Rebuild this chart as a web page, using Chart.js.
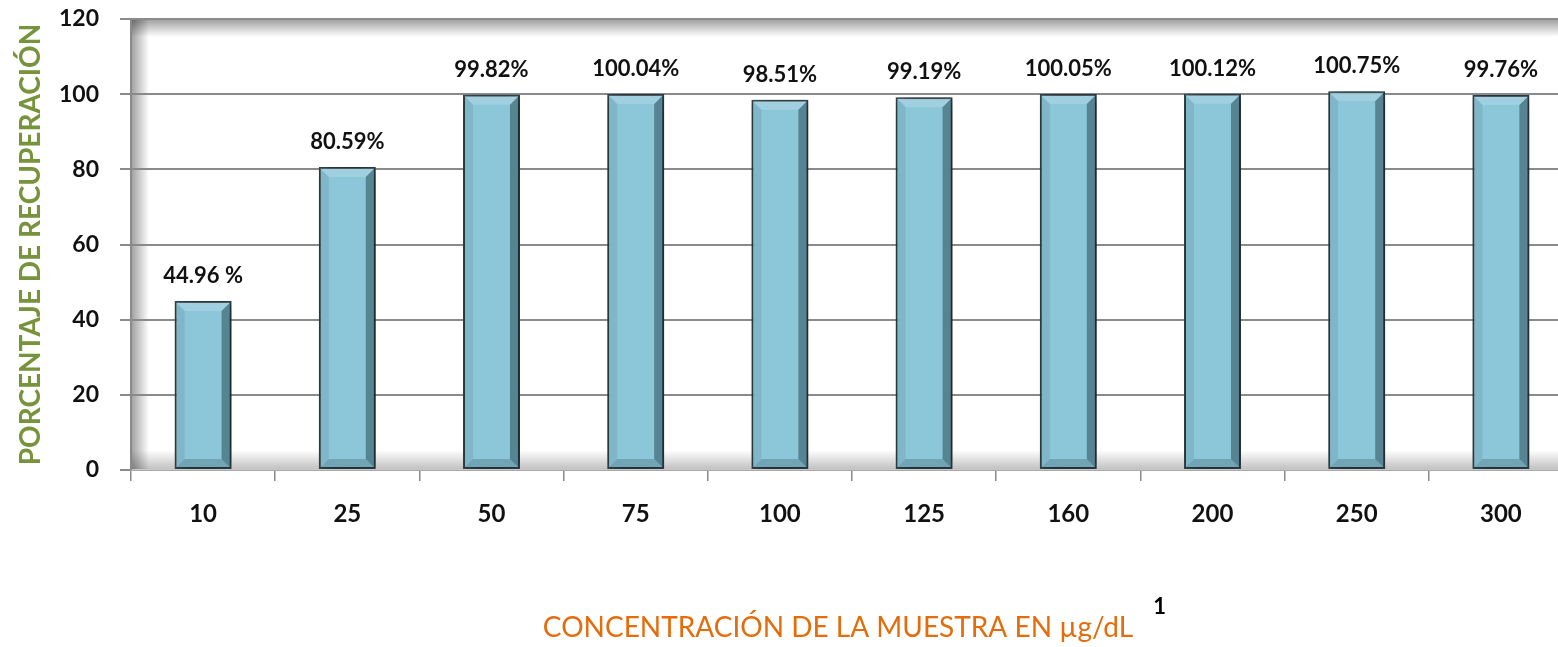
<!DOCTYPE html>
<html>
<head>
<meta charset="utf-8">
<title>Porcentaje de recuperación</title>
<script src="https://cdn.jsdelivr.net/npm/chart.js@4.4.1/dist/chart.umd.min.js"></script>
<style>
  html, body { margin: 0; padding: 0; background: #fff; overflow: hidden; }
  #wrap { width: 1580px; height: 647px; position: relative; }
</style>
</head>
<body>
<div id="wrap"><canvas id="chart"></canvas></div>
<script>
// concentration of each sample (µg/dL)
const categories = ["10", "25", "50", "75", "100", "125", "160", "200", "250", "300"];
// recovery percentage
const recovery = [44.96, 80.59, 99.82, 100.04, 98.51, 99.19, 100.05, 100.12, 100.75, 99.76];
const recoveryLabels = ["44.96 %", "80.59%", "99.82%", "100.04%", "98.51%", "99.19%", "100.05%", "100.12%", "100.75%", "99.76%"];
const yTicks = [0, 20, 40, 60, 80, 100, 120];

const FONT = "Lato, 'Open Sans', sans-serif";
const xTitleText = "CONCENTRACIÓN DE LA MUESTRA EN µg/dL";

// inset frame shading + white background
const frame = {
  id: "frame",
  beforeDraw(chart) {
    const { ctx, chartArea: a } = chart;
    ctx.save();
    ctx.fillStyle = "#fff";
    ctx.fillRect(0, 0, chart.width, chart.height);

    let g = ctx.createLinearGradient(a.left, 0, a.left + 18, 0);
    g.addColorStop(0, "rgba(0,0,0,0.38)");
    g.addColorStop(1, "rgba(0,0,0,0)");
    ctx.fillStyle = g;
    ctx.fillRect(a.left, a.top, 18, a.bottom - a.top);

    g = ctx.createLinearGradient(0, a.top, 0, a.top + 18);
    g.addColorStop(0, "rgba(0,0,0,0.38)");
    g.addColorStop(1, "rgba(0,0,0,0)");
    ctx.fillStyle = g;
    ctx.fillRect(a.left, a.top, a.right - a.left, 18);

    g = ctx.createLinearGradient(0, a.bottom, 0, a.bottom - 20);
    g.addColorStop(0, "rgba(0,0,0,0.25)");
    g.addColorStop(1, "rgba(0,0,0,0)");
    ctx.fillStyle = g;
    ctx.fillRect(a.left, a.bottom - 20, a.right - a.left, 20);
    ctx.restore();
  },
  afterDraw(chart) {
    const { ctx, chartArea: a } = chart;
    ctx.save();
    ctx.strokeStyle = "#8a8a8a";
    ctx.lineWidth = 2;
    ctx.beginPath();
    ctx.moveTo(a.left, a.bottom);
    ctx.lineTo(a.left, a.top);
    ctx.lineTo(a.right, a.top);
    ctx.stroke();

    // x axis title with superscript note
    ctx.font = `28px ${FONT}`;
    ctx.fillStyle = "#e46c0a";
    ctx.textAlign = "center";
    ctx.textBaseline = "middle";
    const cx = 838;
    ctx.fillText(xTitleText, cx, 628);
    const w = ctx.measureText(xTitleText).width;
    ctx.font = `bold 22px ${FONT}`;
    ctx.fillStyle = "#000";
    ctx.textAlign = "left";
    ctx.fillText("1", cx + w / 2 + 20, 607);
    ctx.restore();
  }
};

// soft drop shadow under the bars, bevel edges and value labels
const barShadow = {
  id: "barShadow",
  beforeDatasetsDraw(chart) {
    const ctx = chart.ctx;
    ctx.save();
    ctx.shadowColor = "rgba(0,0,0,0.6)";
    ctx.shadowBlur = 14;
    ctx.shadowOffsetX = 3;
    ctx.shadowOffsetY = 0;
  },
  afterDatasetsDraw(chart) {
    const ctx = chart.ctx;
    ctx.restore();
    ctx.save();
    const meta = chart.getDatasetMeta(0);
    meta.data.forEach((bar, i) => {
      const half = bar.width / 2;
      const l = bar.x - half, r = bar.x + half, t = bar.y, b = bar.base;
      const bev = 10;
      // right bevel
      ctx.fillStyle = "rgba(20,50,60,0.45)";
      ctx.beginPath();
      ctx.moveTo(r - 1, t + 1);
      ctx.lineTo(r - 1, b - 1);
      ctx.lineTo(r - bev, b - bev);
      ctx.lineTo(r - bev, t + bev);
      ctx.closePath();
      ctx.fill();
      // top bevel
      ctx.fillStyle = "rgba(255,255,255,0.18)";
      ctx.beginPath();
      ctx.moveTo(l + 1, t + 1);
      ctx.lineTo(r - 1, t + 1);
      ctx.lineTo(r - bev, t + bev);
      ctx.lineTo(l + bev, t + bev);
      ctx.closePath();
      ctx.fill();
      // left bevel
      ctx.fillStyle = "rgba(20,50,60,0.10)";
      ctx.beginPath();
      ctx.moveTo(l + 1, t + 1);
      ctx.lineTo(l + bev, t + bev);
      ctx.lineTo(l + bev, b - bev);
      ctx.lineTo(l + 1, b - 1);
      ctx.closePath();
      ctx.fill();
      // bottom bevel
      ctx.fillStyle = "rgba(20,50,60,0.22)";
      ctx.beginPath();
      ctx.moveTo(l + 1, b - 1);
      ctx.lineTo(r - 1, b - 1);
      ctx.lineTo(r - bev, b - bev);
      ctx.lineTo(l + bev, b - bev);
      ctx.closePath();
      ctx.fill();

      // value label
      ctx.fillStyle = "#111";
      ctx.font = `bold 22px ${FONT}`;
      ctx.textAlign = "center";
      ctx.textBaseline = "middle";
      ctx.fillText(recoveryLabels[i], bar.x, t - 25);
    });
    ctx.restore();
  }
};

new Chart(document.getElementById("chart"), {
  type: "bar",
  data: {
    labels: categories,
    datasets: [{
      data: recovery,
      backgroundColor: "#8cc6d9",
      borderColor: "#33474f",
      borderWidth: 2,
      borderSkipped: false,
      barPercentage: 0.395,
      categoryPercentage: 1
    }]
  },
  options: {
    responsive: true,
    maintainAspectRatio: false,
    animation: false,
    layout: { padding: { top: 19, right: 7, left: 0, bottom: 0 } },
    plugins: { legend: { display: false }, tooltip: { enabled: false } },
    scales: {
      x: {
        grid: { drawOnChartArea: false, drawTicks: true, tickLength: 11, color: "#8a8a8a", lineWidth: 1.5 },
        border: { color: "#c8c8c8", width: 1.5 },
        ticks: { color: "#111", font: { family: FONT, size: 24, weight: "bold" }, padding: 19 },
        afterFit(scale) { scale.height = 177; }
      },
      y: {
        min: 0,
        max: 120,
        afterBuildTicks(scale) { scale.ticks = yTicks.map(v => ({ value: v })); },
        grid: { color: "#8a8a8a", lineWidth: 2, tickLength: 11 },
        border: { display: false },
        ticks: { color: "#111", font: { family: FONT, size: 23, weight: "bold" }, padding: 21 },
        title: {
          display: true,
          text: "PORCENTAJE DE RECUPERACIÓN",
          color: "#77933c",
          font: { family: FONT, size: 28, weight: "bold" },
          padding: { top: 14, bottom: 0 }
        },
        afterFit(scale) {
          scale.width = 131;
          scale.paddingTop = 0;
          scale.paddingBottom = 0;
        }
      }
    }
  },
  plugins: [frame, barShadow]
});
</script>
</body>
</html>
